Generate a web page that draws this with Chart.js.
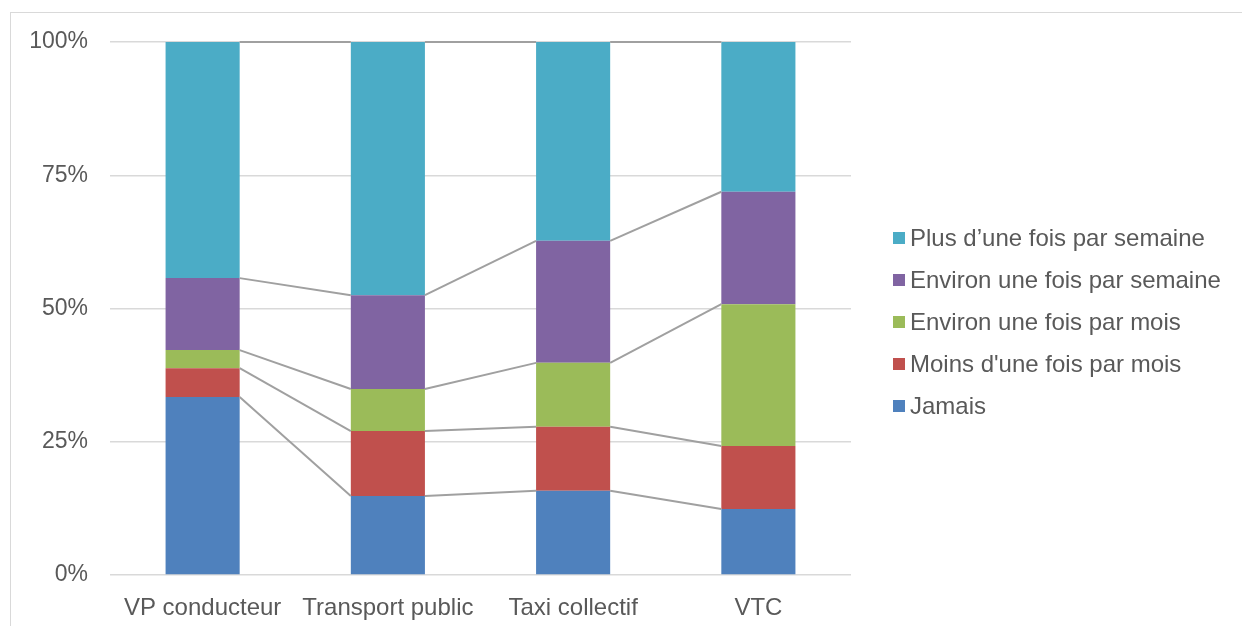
<!DOCTYPE html>
<html>
<head>
<meta charset="utf-8">
<script src="https://cdn.jsdelivr.net/npm/chart.js@4.4.0/dist/chart.umd.min.js"></script>
<style>
  body { margin: 0; background: #fff; }
  #frame { position: absolute; left: 10px; top: 12px; width: 1240px; height: 620px; border: 1px solid #d9d9d9; }
  #wrap { position: absolute; left: 0; top: 0; width: 1242px; height: 626px; }
</style>
</head>
<body>
<div id="frame"></div>
<div id="wrap"><canvas id="chart" width="1242" height="626"></canvas></div>
<script>
const categories = ["VP conducteur", "Transport public", "Taxi collectif", "VTC"];
const jamais = [33.4, 14.8, 15.8, 12.4];
const moinsMois = [5.4, 12.2, 12.0, 11.8];
const environMois = [3.4, 7.9, 12.0, 26.6];
const environSemaine = [13.5, 17.6, 22.9, 21.1];
const plusSemaine = [44.3, 47.5, 37.3, 28.1];
const yTicks = [0, 25, 50, 75, 100];

const FONT = "'Liberation Sans', Arial, sans-serif";
const TEXT = "#595959";

// grey lines joining the tops of each segment from bar to bar
const seriesLines = {
    id: "seriesLines",
    afterDatasetsDraw(chart) {
        const ctx = chart.ctx;
        ctx.save();
        ctx.strokeStyle = "#a0a0a0";
        ctx.lineWidth = 2;
        chart.data.datasets.forEach((ds, d) => {
            const bars = chart.getDatasetMeta(d).data;
            for (let i = 0; i < bars.length - 1; i++) {
                const a = bars[i], b = bars[i + 1];
                ctx.beginPath();
                ctx.moveTo(a.x + a.width / 2, a.y);
                ctx.lineTo(b.x - b.width / 2, b.y);
                ctx.stroke();
            }
        });
        ctx.restore();
    }
};

// legend on the right, reversed order
const sideLegend = {
    id: "sideLegend",
    afterDraw(chart) {
        const ctx = chart.ctx;
        const items = chart.data.datasets.slice().reverse();
        ctx.save();
        ctx.font = "24px " + FONT;
        ctx.textBaseline = "middle";
        items.forEach((ds, k) => {
            const cy = 238 + k * 42;
            ctx.fillStyle = ds.backgroundColor;
            ctx.fillRect(893, cy - 6, 12, 12);
            ctx.fillStyle = TEXT;
            ctx.fillText(ds.label, 910, cy + 1);
        });
        ctx.restore();
    }
};

new Chart(document.getElementById("chart"), {
    type: "bar",
    data: {
        labels: categories,
        datasets: [
            { label: "Jamais", data: jamais, backgroundColor: "#4f81bd" },
            { label: "Moins d'une fois par mois", data: moinsMois, backgroundColor: "#c0504d" },
            { label: "Environ une fois par mois", data: environMois, backgroundColor: "#9bbb59" },
            { label: "Environ une fois par semaine", data: environSemaine, backgroundColor: "#8064a2" },
            { label: "Plus d\u2019une fois par semaine", data: plusSemaine, backgroundColor: "#4bacc6" }
        ]
    },
    options: {
        responsive: false,
        animation: false,
        layout: { padding: { top: 42, right: 391, bottom: 0, left: 0 } },
        datasets: { bar: { barPercentage: 0.4, categoryPercentage: 1, borderWidth: 0 } },
        plugins: { legend: { display: false }, tooltip: { enabled: false } },
        scales: {
            x: {
                stacked: true,
                grid: { display: false },
                border: { display: false },
                ticks: { color: TEXT, font: { family: FONT, size: 24 }, padding: 11 },
                afterFit(s) { s.height = 51; }
            },
            y: {
                stacked: true,
                min: 0,
                max: 100,
                afterBuildTicks(s) { s.ticks = yTicks.map(v => ({ value: v })); },
                grid: { color: "#d9d9d9", lineWidth: 1.5, drawTicks: false },
                border: { display: false },
                ticks: {
                    color: TEXT,
                    font: { family: FONT, size: 23 },
                    padding: 22,
                    callback: v => v + "%"
                },
                afterFit(s) { s.width = 110; }
            }
        }
    },
    plugins: [seriesLines, sideLegend]
});
</script>
</body>
</html>
